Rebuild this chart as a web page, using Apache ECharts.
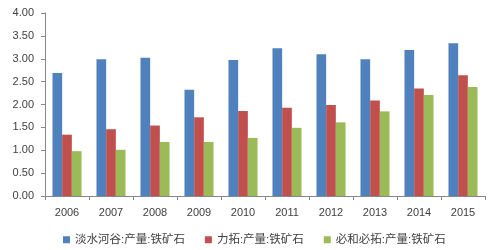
<!DOCTYPE html>
<html><head><meta charset="utf-8">
<script src="https://cdn.jsdelivr.net/npm/echarts@6/dist/echarts.min.js"></script>
<style>html,body{margin:0;padding:0;background:#fff}#c{width:500px;height:250px}</style>
</head><body><div id="c"></div>
<script>
const years = ['2006','2007','2008','2009','2010','2011','2012','2013','2014','2015'];
const seriesNames = ['淡水河谷:产量:铁矿石','力拓:产量:铁矿石','必和必拓:产量:铁矿石'];
const vale = [2.69,2.99,3.02,2.32,2.97,3.23,3.10,2.99,3.19,3.34];
const rio = [1.34,1.46,1.54,1.72,1.86,1.93,1.99,2.09,2.35,2.64];
const bhp = [0.98,1.01,1.18,1.18,1.27,1.49,1.61,1.85,2.21,2.38];
const colors = ['#4F81BD','#C0504D','#9BBB59'];
const font = '"Liberation Sans","Noto Sans CJK SC",sans-serif';
const chart = echarts.init(document.getElementById('c'));
chart.setOption({
  animation:false,
  textStyle:{fontFamily:font},
  grid:{left:45,right:15,top:13,bottom:54},
  legend:{top:229,left:58,itemWidth:7,itemHeight:7,itemGap:20,icon:'rect',
    textStyle:{fontSize:11.5,color:'#404040',fontFamily:font},data:seriesNames},
  xAxis:{type:'category',data:years,
    axisLine:{lineStyle:{color:'#888'}},
    axisTick:{show:true,alignWithLabel:false,length:4,lineStyle:{color:'#888'}},
    axisLabel:{fontSize:11,color:'#404040',margin:11}},
  yAxis:{type:'value',min:0,max:4,interval:0.5,
    axisLine:{show:true,lineStyle:{color:'#888'}},
    axisTick:{show:true,length:4,lineStyle:{color:'#888'}},
    splitLine:{show:false},
    axisLabel:{fontSize:11,color:'#404040',margin:11,formatter:v=>v.toFixed(2)}},
  series:[vale,rio,bhp].map((d,i)=>({name:seriesNames[i],type:'bar',data:d,
    itemStyle:{color:colors[i]},barGap:'0%',barCategoryGap:'34%'}))
});
</script></body></html>
